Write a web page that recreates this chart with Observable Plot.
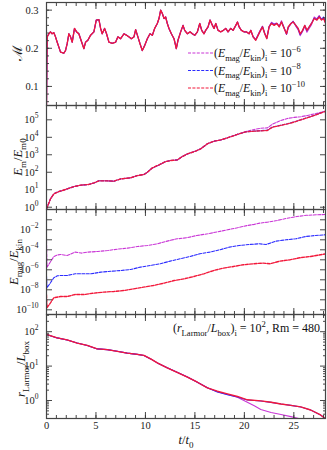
<!DOCTYPE html>
<html><head><meta charset="utf-8">
<script src="https://cdn.jsdelivr.net/npm/d3@7"></script>
<script src="https://cdn.jsdelivr.net/npm/@observablehq/plot@0.6"></script>
<style>
body{margin:0;background:#fff;}
#chart{position:relative;width:327px;height:450px;font-family:"Liberation Serif",serif;}
#chart svg{position:absolute;left:0;overflow:visible;}
#chart text{white-space:pre;}
</style></head><body><div id="chart"></div>
<script>
// ---------- data ----------
const runs = ["(Emag/Ekin)i = 1e-6", "(Emag/Ekin)i = 1e-8", "(Emag/Ekin)i = 1e-10"];
const runExp = ["−6", "−8", "−10"];
const runColors = ["#c935d6", "#2b2bff", "#f2183a"];

// Panel 1: Mach number (identical for all runs until t ~ 20.7)
const machT = [0,0.03,0.07,0.24,0.40,0.57,0.74,0.91,1.08,1.25,1.42,1.75,1.92,2.09,2.26,2.43,2.60,2.83,3.04,3.27,3.44,3.78,3.95,4.18,4.45,4.79,5.03,5.30,5.47,5.63,5.87,6.07,6.31,6.65,6.98,7.22,7.49,7.83,8.10,8.33,8.57,8.84,9.01,9.24,9.45,9.68,9.92,10.19,10.46,10.70,10.93,11.20,11.37,11.54,11.71,11.88,12.04,12.21,12.38,12.62,12.89,13.12,13.29,13.56,13.80,13.97,14.24,14.51,14.74,14.98,15.25,15.49,15.69,15.92,16.09,16.33,16.53,16.77,16.94,17.11,17.34,17.61,17.88,18.12,18.35,18.62,18.86,19.13,19.30,19.47,19.70,19.97,20.21,20.48,20.65];
const machV = [0.05,0.15,0.230,0.238,0.243,0.238,0.241,0.230,0.216,0.203,0.190,0.187,0.194,0.212,0.238,0.230,0.216,0.252,0.243,0.238,0.225,0.199,0.216,0.221,0.234,0.243,0.274,0.275,0.252,0.238,0.252,0.238,0.216,0.213,0.216,0.230,0.225,0.238,0.234,0.230,0.225,0.230,0.249,0.230,0.212,0.194,0.207,0.225,0.238,0.234,0.252,0.265,0.278,0.300,0.291,0.278,0.282,0.265,0.252,0.238,0.225,0.199,0.221,0.243,0.260,0.247,0.238,0.243,0.238,0.234,0.243,0.265,0.247,0.238,0.247,0.256,0.274,0.260,0.252,0.265,0.247,0.243,0.247,0.252,0.243,0.252,0.247,0.260,0.269,0.256,0.247,0.243,0.243,0.238,0.247];
const machLateT = [20.88,21.15,21.32,21.56,21.83,22.06,22.27,22.50,22.74,23.01,23.28,23.52,23.75,24.02,24.26,24.43,24.70,24.93,25.20,25.44,25.64,25.88,26.11,26.32,26.55,26.79,27.06,27.33,27.56,27.80,28.00,28.24];
const machLateM = [0.231,0.223,0.232,0.245,0.258,0.240,0.227,0.257,0.268,0.264,0.266,0.258,0.272,0.254,0.236,0.253,0.264,0.271,0.258,0.248,0.233,0.244,0.258,0.242,0.252,0.262,0.282,0.277,0.286,0.276,0.280,0.262];
const machLateB = [0.230,0.222,0.231,0.243,0.257,0.238,0.226,0.256,0.266,0.262,0.265,0.257,0.269,0.253,0.237,0.255,0.265,0.270,0.260,0.251,0.236,0.246,0.260,0.246,0.256,0.266,0.279,0.275,0.284,0.275,0.282,0.266];
const machLateR = [0.230,0.221,0.230,0.243,0.256,0.238,0.225,0.256,0.265,0.260,0.265,0.256,0.269,0.252,0.238,0.256,0.265,0.269,0.260,0.252,0.238,0.247,0.260,0.247,0.256,0.265,0.278,0.274,0.282,0.274,0.278,0.265];

// Panel 2: E_m / E_m0
const emT = [0,0.40,0.74,1.25,1.59,2.09,2.77,3.44,4.28,4.79,5.30,6.14,6.82,7.49,8.50,9.18,9.85,10.19,10.70,11.37,12.04,12.55,13.23,13.73,14.24,15.08,15.59,16.26,16.94,17.61,18.29,18.96,19.47,20.14,20.99,21.66,22.33,22.84,23.68,24.36,25.03,25.71,26.38,27.23,28.24];
const emM = [0.78,3.0,5.8,7.9,8.9,11.2,15.1,18.2,20,24.5,32.4,32.4,30.9,41.7,47.9,64.6,74.1,100,178,263,407,468,513,794,1122,1622,2188,4266,6026,7079,9333,12589,15849,21380,28184,33113,34674,56234,91201,1.20e5,1.38e5,1.51e5,1.78e5,2.29e5,3.16e5];
const emB = [0.78,3.0,5.8,7.9,8.9,11.2,15.1,18.2,20,24.5,32.4,32.4,30.9,41.7,47.9,64.6,74.1,100,178,263,407,468,513,794,1122,1622,2188,4266,6026,7079,9333,12589,15849,20400,22800,24000,25500,39000,48500,60000,76000,1.02e5,1.34e5,1.95e5,3.2e5];
const emR = [0.78,3.0,5.8,7.9,8.9,11.2,15.1,18.2,20,24.5,32.4,32.4,30.9,41.7,47.9,64.6,74.1,100,178,263,407,468,513,794,1122,1622,2188,4266,6026,7079,9333,12589,15849,20417,22387,23442,24547,38019,47863,58884,74131,1.0e5,1.32e5,1.91e5,3.16e5];

// Panel 3: E_mag / E_kin
const ratioTm = [0,0.05,0.4,0.74,1.1,1.42,2.09,2.9,3.5,4.2,5.2,6.2,7.2,8.2,9.2,10.2,11.2,12.2,13.2,14.2,15.2,16.3,17.3,18.3,19.3,20.3,21.0,21.6,22.3,23.3,24.3,25.3,26.3,27.3,28.24];
const ratioM = [8.5e-4,1.8e-6,6.3e-6,2.1e-5,3.0e-5,3.4e-5,2.7e-5,5.9e-5,4.7e-5,5.9e-5,6.8e-5,8.5e-5,1.17e-4,1.48e-4,2.14e-4,2.7e-4,4.0e-4,7.4e-4,1.26e-3,1.6e-3,2.7e-3,4.0e-3,6.3e-3,1.0e-2,1.6e-2,2.7e-2,3.5e-2,4.7e-2,5.75e-2,8.5e-2,0.141,0.214,0.282,0.316,0.339];
const ratioTb = [0,0.05,0.4,0.74,1.1,1.42,2.09,2.9,3.5,4.5,5.5,6.5,7.5,8.5,9.5,10.5,11.5,12.5,13.5,14.5,15.5,16.5,17.5,18.5,19.5,20.5,21.5,22.2,23.2,24.2,25.2,26.2,27.2,28.24];
const ratioB = [2.5e-7,1.6e-8,5.0e-8,1.6e-7,2.5e-7,2.7e-7,2.7e-7,4.0e-7,4.0e-7,4.0e-7,5.9e-7,7.1e-7,8.5e-7,1.07e-6,1.86e-6,2.7e-6,4.0e-6,7.4e-6,1.26e-5,2.14e-5,4.0e-5,5.9e-5,1.0e-4,1.86e-4,2.7e-4,3.4e-4,4.0e-4,3.4e-4,7.4e-4,1.0e-3,1.26e-3,2.14e-3,2.7e-3,3.2e-3];
const ratioTr = [0,0.05,0.4,0.74,1.42,2.09,2.9,3.8,4.8,5.8,6.8,7.8,8.8,9.8,10.8,11.9,12.9,13.9,14.9,15.9,16.9,17.9,18.9,19.9,20.9,21.9,22.6,23.6,24.6,25.6,26.7,27.7,28.24];
const ratioR = [3.2e-9,1.6e-10,5.0e-10,1.6e-9,2.14e-9,2.14e-9,3.4e-9,3.4e-9,4.7e-9,5.9e-9,6.8e-9,8.5e-9,1.26e-8,1.86e-8,2.7e-8,4.7e-8,8.5e-8,1.26e-7,2.14e-7,4.0e-7,8.5e-7,1.48e-6,2.14e-6,3.2e-6,4.0e-6,4.7e-6,4.0e-6,7.4e-6,1.0e-5,1.6e-5,2.14e-5,3.2e-5,4.0e-5];

// Panel 4: r_Larmor / L_box
const larT = [0,1.08,2.09,3.10,4.12,5.13,6.14,7.15,8.16,9.18,9.85,10.53,11.2,12.2,13.2,14.24,15.25,16.26,17.27,18.29,19.3,20.3,21.66,22.7,23.7,24.7,25.7,26.7,27.7,28.24];
const larR = [83,66,57.5,46.8,39.8,31.6,30.2,26.9,23.8,21.9,20.4,16.2,12.4,8.9,6.6,4.8,3.4,2.34,1.86,1.55,1.31,1.05,0.98,0.89,0.79,0.72,0.65,0.53,0.38,0.29];
const larB = [83,66,57.5,46.8,39.8,31.6,30.2,26.9,23.8,21.9,20.4,16.2,12.4,8.9,6.6,4.8,3.4,2.34,1.78,1.48,1.27,1.03,0.97,0.88,0.79,0.72,0.65,0.53,0.38,0.29];
const larTm = [0,1.08,2.09,3.10,4.12,5.13,6.14,7.15,8.16,9.18,9.85,10.53,11.2,12.2,13.2,14.24,15.25,16.26,17.27,18.29,19.3,20.3,21.0,21.66,22.7,23.7,24.7,25.5,26.2];
const larM = [83,66,57.5,46.8,39.8,31.6,30.2,26.9,23.8,21.9,20.4,16.2,12.4,8.9,6.6,4.8,3.4,2.34,1.80,1.50,1.25,0.89,0.70,0.55,0.45,0.39,0.34,0.30,0.27];

const xMajor = [0,5,10,15,20,25];
const xMinor = d3.range(0, 29, 1);

// ---------- helpers ----------
const pts = (t, v) => t.map((d, i) => ({t: d, v: v[i]}));
const chart = document.getElementById("chart");
const FONT = "'Liberation Serif', 'DejaVu Serif', serif";
const TICK = "#333";
const widths = [1.1, 1.1, 1.35];

function rich(sel, parts, size) {
  let shift = 0;
  for (const p of parts) {
    const o = typeof p === "string" ? {t: p} : p;
    let target = 0, fs = size;
    if (o.sub) { target = 0.3 * size; fs = 0.72 * size; }
    if (o.sup) { target = -0.45 * size; fs = 0.72 * size; }
    const ts = sel.append("tspan").text(o.t).attr("font-size", fs);
    if (target !== shift) ts.attr("dy", target - shift);
    if (o.i) ts.attr("font-style", "italic");
    shift = target;
  }
}
const expFmt = d => "10^" + String(Math.round(Math.log10(d))).replace("-", "−");

function panel({top, height, mt = 0, mb = 0, y, series, dash, yMajor, yMinor = [], yLabels, yFmt, xLabels = false}) {
  const tk = (axis, anchor, ticks, size) => axis({anchor, ticks, tickSize: size, fill: "none", label: null, stroke: TICK, strokeWidth: 0.9});
  const marks = [
    ...series.map(([d, c], i) => Plot.line(d, {x: "t", y: "v", stroke: c, strokeWidth: widths[i], strokeDasharray: dash, clip: true})),
    tk(Plot.axisX, "bottom", xMajor, -6), tk(Plot.axisX, "top", xMajor, -6),
    tk(Plot.axisX, "bottom", xMinor, -3), tk(Plot.axisX, "top", xMinor, -3),
    tk(Plot.axisY, "left", yMajor, -6), tk(Plot.axisY, "right", yMajor, -6),
    yMinor.length ? tk(Plot.axisY, "left", yMinor, -3) : null,
    yMinor.length ? tk(Plot.axisY, "right", yMinor, -3) : null,
    Plot.axisY({anchor: "left", ticks: yLabels, tickSize: 0, tickPadding: 8, tickFormat: yFmt, label: null, fill: "#222"}),
    xLabels ? Plot.axisX({anchor: "bottom", ticks: xMajor, tickSize: 0, tickPadding: 3, tickFormat: d => String(d), label: null, fill: "#222"}) : null,
    Plot.frame({stroke: "#444", strokeWidth: 1.2})
  ];
  const svg = Plot.plot({
    width: 327, height, marginLeft: 46, marginRight: 2, marginTop: mt, marginBottom: mb,
    x: {domain: [0, 28.2]}, y,
    style: {fontFamily: FONT, fontSize: "10.5px", background: "transparent", overflow: "visible"},
    marks
  });
  svg.style.position = "absolute";
  svg.style.top = top + "px";
  chart.appendChild(svg);
  d3.select(svg).selectAll("text").each(function () {
    const m = /^10\^(.+)$/.exec(this.textContent);
    if (m) {
      const s = d3.select(this);
      s.text(null);
      rich(s, ["10", {t: m[1], sup: true}], 10.5);
    }
  });
  return d3.select(svg);
}

function yTitle(svg, x, y, parts, size = 12.5) {
  const t = svg.append("text").attr("transform", `translate(${x},${y}) rotate(-90)`)
    .attr("text-anchor", "middle").attr("font-family", FONT).attr("font-size", size).attr("fill", "#111");
  rich(t, parts, size);
}

// ---------- panel 1 ----------
const machSeries = [
  pts(machT.concat(machLateT), machV.concat(machLateM)),
  pts(machT.concat(machLateT), machV.concat(machLateB)),
  pts(machT.concat(machLateT), machV.concat(machLateR))
];
const p1 = panel({
  top: 0, height: 105, mt: 2, y: {domain: [0.05, 0.32]}, dash: null,
  series: machSeries.map((d, i) => [d, runColors[i]]),
  yMajor: [0.1, 0.2, 0.3], yMinor: d3.range(0.06, 0.32, 0.02), yLabels: [0.1, 0.2, 0.3], yFmt: d => d.toFixed(1)
});
yTitle(p1, 22, 53, [{t: "ℳ"}], 13.5);
runs.forEach((r, i) => {
  const yy = 53 + i * 17.5;
  p1.append("line").attr("x1", 188).attr("x2", 213).attr("y1", yy).attr("y2", yy)
    .attr("stroke", runColors[i]).attr("stroke-width", 1.1).attr("stroke-dasharray", "3,1.4");
  const t = p1.append("text").attr("x", 214).attr("y", yy + 4).attr("text-anchor", "start")
    .attr("font-family", FONT).attr("font-size", 11.8).attr("fill", "#111");
  rich(t, ["(", {t: "E", i: true}, {t: "mag", sub: true}, "/", {t: "E", i: true}, {t: "kin", sub: true}, ")", {t: "i", sub: true}, " = 10", {t: runExp[i], sup: true}], 11.8);
});

// ---------- panel 2 ----------
const p2 = panel({
  top: 105, height: 104, y: {type: "log", domain: [0.74, 6.6e5]}, dash: "3,1.4",
  series: [[pts(emT, emM), runColors[0]], [pts(emT, emB), runColors[1]], [pts(emT, emR), runColors[2]]],
  yMajor: [1, 10, 100, 1e3, 1e4, 1e5], yLabels: [1, 10, 100, 1e3, 1e4, 1e5], yFmt: expFmt
});
yTitle(p2, 22, 52, [{t: "E", i: true}, {t: "m", sub: true}, "/", {t: "E", i: true}, {t: "m0", sub: true}]);

// ---------- panel 3 ----------
const p3 = panel({
  top: 209, height: 105, y: {type: "log", domain: [3.4e-11, 1.07]}, dash: "3,1.4",
  series: [[pts(ratioTm, ratioM), runColors[0]], [pts(ratioTb, ratioB), runColors[1]], [pts(ratioTr, ratioR), runColors[2]]],
  yMajor: [1e-10, 1e-9, 1e-8, 1e-7, 1e-6, 1e-5, 1e-4, 1e-3, 1e-2, 1e-1],
  yLabels: [1e-10, 1e-8, 1e-6, 1e-4, 1e-2], yFmt: expFmt
});
yTitle(p3, 18, 53, [{t: "E", i: true}, {t: "mag", sub: true}, "/", {t: "E", i: true}, {t: "kin", sub: true}]);

// ---------- panel 4 ----------
const p4 = panel({
  top: 314, height: 136, mb: 32, y: {type: "log", domain: [0.30, 316]}, dash: null,
  series: [[pts(larTm, larM), runColors[0]], [pts(larT, larB), runColors[1]], [pts(larT, larR), runColors[2]]],
  yMajor: [1, 10, 100],
  yMinor: [0.4,0.5,0.6,0.7,0.8,0.9,2,3,4,5,6,7,8,9,20,30,40,50,60,70,80,90,200,300],
  yLabels: [1, 10, 100], yFmt: expFmt, xLabels: true
});
yTitle(p4, 25, 55, [{t: "r", i: true}, {t: "Larmor", sub: true}, "/", {t: "L", i: true}, {t: "box", sub: true}]);
{
  const t = p4.append("text").attr("x", 320).attr("y", 18).attr("text-anchor", "end")
    .attr("font-family", FONT).attr("font-size", 12).attr("fill", "#111");
  rich(t, ["(", {t: "r", i: true}, {t: "Larmor", sub: true}, "/", {t: "L", i: true}, {t: "box", sub: true}, ")", {t: "i", sub: true}, " = 10", {t: "2", sup: true}, ", Rm = 480"], 12);
  const xl = p4.append("text").attr("x", 186).attr("y", 130).attr("text-anchor", "middle")
    .attr("font-family", FONT).attr("font-size", 12.5).attr("fill", "#111");
  rich(xl, [{t: "t", i: true}, "/", {t: "t", i: true}, {t: "0", sub: true}], 12.5);
}
</script></body></html>
